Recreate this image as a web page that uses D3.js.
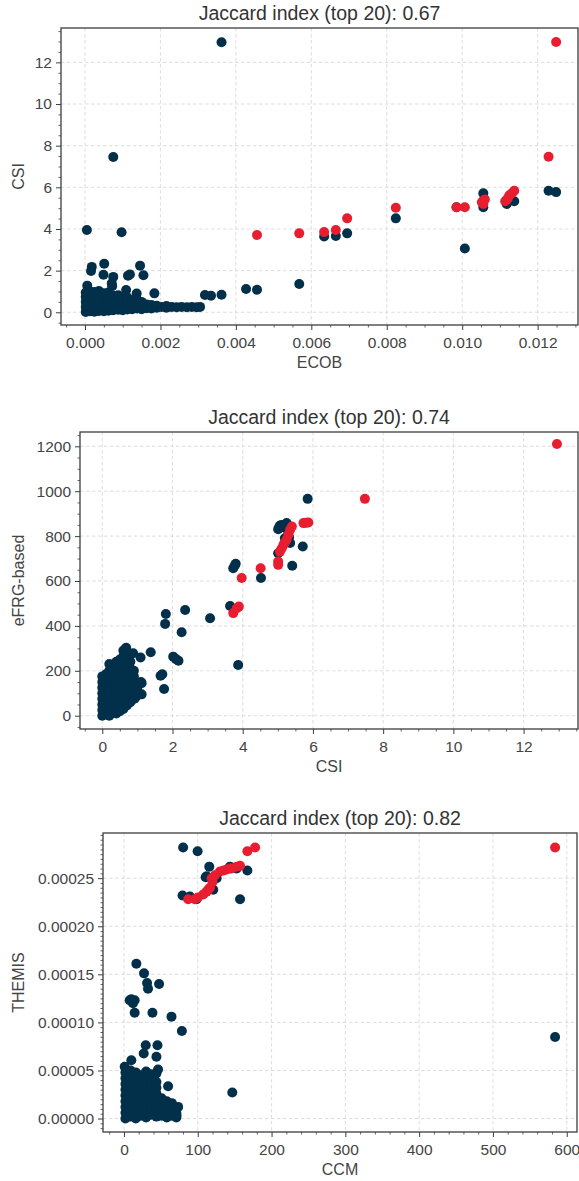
<!DOCTYPE html>
<html>
<head>
<meta charset="utf-8">
<script src="https://cdn.jsdelivr.net/npm/d3@7"></script>
<style>
  body { margin: 0; background: #fff; }
  text { font-family: "Liberation Sans", Arial, sans-serif; }
</style>
</head>
<body>
<svg id="chart" width="579" height="1181"></svg>
<script>
// ---- ECOB vs CSI ----
const ecobCsiAll = [
  [0.00362, 12.97], [0.00075, 7.46], [0.00005, 3.95], [0.00097, 3.84], [0.00051, 2.33],
  [0.00018, 2.18], [0.00016, 1.98], [0.00146, 2.24], [0.00155, 1.78], [0.00049, 1.80],
  [0.00075, 1.70], [0.00071, 1.39], [0.00072, 1.25], [0.00114, 1.76], [0.00119, 1.82],
  [0.00109, 1.07], [0.00006, 1.28], [0.00184, 0.91], [0.00137, 0.90], [0.00318, 0.83],
  [0.00334, 0.80], [0.00362, 0.84], [0.00427, 1.12], [0.00456, 1.08], [0.00568, 1.36],
  [0.00634, 3.64], [0.00665, 3.66], [0.00695, 3.79], [0.00824, 4.51], [0.00985, 5.04],
  [0.01007, 3.06], [0.01056, 5.71], [0.01056, 5.04], [0.01118, 5.20], [0.01138, 5.33],
  [0.01229, 5.84], [0.01249, 5.77],
  [0.00002, 0.02], [0.00002, 0.25], [0.00002, 0.50], [0.00002, 0.75], [0.00002, 0.95],
  [0.00013, 0.05], [0.00013, 0.30], [0.00013, 0.55], [0.00013, 0.80], [0.00013, 1.00],
  [0.00025, 0.03], [0.00025, 0.28], [0.00025, 0.52], [0.00025, 0.78], [0.00025, 0.98],
  [0.00037, 0.06], [0.00037, 0.30], [0.00037, 0.55], [0.00037, 0.80], [0.00037, 1.02],
  [0.00050, 0.05], [0.00050, 0.28], [0.00050, 0.50], [0.00050, 0.75], [0.00050, 0.92],
  [0.00062, 0.08], [0.00062, 0.30], [0.00062, 0.55], [0.00062, 0.78], [0.00062, 0.95],
  [0.00075, 0.10], [0.00075, 0.32], [0.00075, 0.55], [0.00075, 0.80],
  [0.00088, 0.12], [0.00088, 0.35], [0.00088, 0.58], [0.00088, 0.82],
  [0.00100, 0.10], [0.00100, 0.32], [0.00100, 0.55], [0.00100, 0.75],
  [0.00112, 0.14], [0.00112, 0.35], [0.00112, 0.55], [0.00112, 0.72],
  [0.00125, 0.15], [0.00125, 0.35], [0.00125, 0.58],
  [0.00138, 0.18], [0.00138, 0.40], [0.00138, 0.62],
  [0.00150, 0.15], [0.00150, 0.32], [0.00150, 0.50],
  [0.00163, 0.20], [0.00163, 0.38], [0.00176, 0.18], [0.00176, 0.35],
  [0.00190, 0.22], [0.00190, 0.32], [0.00203, 0.25], [0.00216, 0.22], [0.00216, 0.30],
  [0.00230, 0.26], [0.00243, 0.24], [0.00256, 0.26], [0.00270, 0.24], [0.00283, 0.25],
  [0.00296, 0.24], [0.00305, 0.26]
];
const ecobCsiTop = [
  [0.00456, 3.71], [0.00568, 3.79], [0.00634, 3.85], [0.00665, 3.95], [0.00695, 4.51],
  [0.00824, 5.02], [0.00985, 5.04], [0.01007, 5.04], [0.01056, 5.20], [0.01056, 5.35],
  [0.01052, 5.28], [0.01060, 5.42], [0.01114, 5.33], [0.01118, 5.39], [0.01121, 5.47],
  [0.01125, 5.62], [0.01132, 5.72], [0.01138, 5.84], [0.01229, 7.47], [0.01249, 12.98]
];

// ---- CSI vs eFRG-based ----
const csiEfrgAll = [
  [1.81, 453], [2.36, 471], [1.79, 409], [2.26, 372], [3.07, 434], [1.38, 283], [1.09, 259],
  [0.88, 278], [2.02, 263], [2.17, 245], [2.10, 252], [1.71, 185], [1.66, 178], [1.76, 119],
  [1.12, 145], [1.12, 95], [0.93, 78], [3.87, 226], [3.64, 489], [3.73, 657], [3.80, 677],
  [3.77, 668], [4.52, 613], [5.01, 724], [5.01, 831], [5.25, 858], [5.10, 850], [5.18, 838],
  [5.05, 845], [5.30, 815], [5.32, 795], [5.20, 790], [5.85, 966], [5.71, 754], [5.41, 668],
  [5.35, 769], [5.28, 785],
  [0.0, 0], [0.0, 25], [0.0, 50], [0.0, 75], [0.0, 100], [0.0, 125], [0.0, 150], [0.0, 175],
  [0.1, 10], [0.1, 35], [0.1, 60], [0.1, 85], [0.1, 110], [0.1, 135], [0.1, 160], [0.1, 185],
  [0.2, 0], [0.2, 25], [0.2, 50], [0.2, 75], [0.2, 100], [0.2, 125], [0.2, 150], [0.2, 175], [0.2, 200], [0.2, 230],
  [0.3, 15], [0.3, 40], [0.3, 65], [0.3, 90], [0.3, 115], [0.3, 140], [0.3, 165], [0.3, 190], [0.3, 215],
  [0.4, 10], [0.4, 35], [0.4, 60], [0.4, 85], [0.4, 110], [0.4, 135], [0.4, 160], [0.4, 185], [0.4, 210], [0.4, 240],
  [0.5, 20], [0.5, 45], [0.5, 70], [0.5, 95], [0.5, 120], [0.5, 145], [0.5, 170], [0.5, 195], [0.5, 220], [0.5, 250],
  [0.6, 30], [0.6, 55], [0.6, 80], [0.6, 105], [0.6, 130], [0.6, 155], [0.6, 180], [0.6, 205], [0.6, 230], [0.6, 265], [0.6, 290],
  [0.7, 45], [0.7, 70], [0.7, 95], [0.7, 120], [0.7, 145], [0.7, 170], [0.7, 195], [0.7, 220], [0.7, 250], [0.68, 303],
  [0.8, 60], [0.8, 85], [0.8, 110], [0.8, 135], [0.8, 160], [0.8, 185], [0.8, 210], [0.8, 240], [0.8, 275],
  [0.9, 75], [0.9, 100], [0.9, 125], [0.9, 150], [0.9, 175], [0.9, 200],
  [1.0, 90], [1.0, 115], [1.0, 140], [1.1, 150]
];
const csiEfrgTop = [
  [3.73, 457], [3.83, 479], [3.89, 486], [3.97, 613], [4.51, 657], [5.01, 672], [5.01, 687],
  [5.06, 731], [5.11, 745], [5.16, 761], [5.20, 772], [5.25, 784], [5.30, 806], [5.35, 828],
  [5.40, 843], [5.73, 858], [5.80, 859], [5.87, 861], [7.48, 966], [12.95, 1210]
];

// ---- CCM vs THEMIS ----
const ccmThemisAll = [
  [80.2, 0.000282], [99.8, 0.000278], [115.6, 0.000262], [110.7, 0.000251], [79.4, 0.000232],
  [89.3, 0.000231], [98.4, 0.000228], [157.3, 0.000228], [167.2, 0.000258], [143.7, 0.000262],
  [152.8, 0.000260], [125.6, 0.000250], [121.0, 0.000238], [112.0, 0.000252], [584.2, 0.0000848],
  [16.8, 0.000161], [27.2, 0.000151], [31.3, 0.000141], [32.6, 0.000135], [47.6, 0.000140],
  [7.7, 0.000123], [14.5, 0.000123], [12.2, 0.000120], [10.0, 0.000124], [14.5, 0.000110],
  [38.6, 0.000110], [64.4, 0.000106], [78.5, 0.000091], [29.5, 0.0000763], [45.4, 0.0000763],
  [26.8, 0.0000677], [44.0, 0.0000642], [146.8, 0.0000271], [59.8, 0.0000336], [1.0, 0.0000538],
  [10.0, 0.0000607], [46.2, 0.0000510], [73.4, 0.0000121], [71.2, 0.0000034],
  [2, 0.000000], [2, 0.000006], [2, 0.000012], [2, 0.000018], [2, 0.000024], [2, 0.000030], [2, 0.000036], [2, 0.000042], [2, 0.000048],
  [9, 0.000002], [9, 0.000008], [9, 0.000014], [9, 0.000020], [9, 0.000026], [9, 0.000032], [9, 0.000038], [9, 0.000044], [9, 0.000050],
  [16, 0.000000], [16, 0.000006], [16, 0.000012], [16, 0.000018], [16, 0.000024], [16, 0.000030], [16, 0.000036], [16, 0.000042], [16, 0.000048],
  [23, 0.000003], [23, 0.000009], [23, 0.000015], [23, 0.000021], [23, 0.000027], [23, 0.000033], [23, 0.000039], [23, 0.000045],
  [30, 0.000001], [30, 0.000007], [30, 0.000013], [30, 0.000019], [30, 0.000025], [30, 0.000031], [30, 0.000037], [30, 0.000043], [30, 0.000049],
  [37, 0.000004], [37, 0.000010], [37, 0.000016], [37, 0.000022], [37, 0.000028], [37, 0.000034], [37, 0.000040], [37, 0.000046],
  [44, 0.000002], [44, 0.000008], [44, 0.000014], [44, 0.000020], [44, 0.000026], [44, 0.000032], [44, 0.000038], [44, 0.000047],
  [51, 0.000003], [51, 0.000009], [51, 0.000015], [51, 0.000021],
  [58, 0.000001], [58, 0.000007], [58, 0.000014], [58, 0.000018],
  [65, 0.000003], [65, 0.000010], [65, 0.000016],
  [71, 0.000001], [71, 0.000006]
];
const ccmThemisTop = [
  [87.0, 0.000228], [96.1, 0.000228], [100.0, 0.000230], [107.4, 0.000233], [112.0, 0.000236],
  [114.2, 0.000238], [116.5, 0.000240], [118.8, 0.000250], [120.0, 0.000246], [123.3, 0.000253],
  [130.1, 0.000257], [135.0, 0.000258], [139.2, 0.000259], [143.7, 0.000260], [146.0, 0.000260],
  [152.8, 0.000262], [157.3, 0.000263], [167.2, 0.000278], [177.7, 0.000282], [584.2, 0.000282]
];

// tick values
const ecobTicks = [0, 0.002, 0.004, 0.006, 0.008, 0.010, 0.012];
const csiTicks = [0, 2, 4, 6, 8, 10, 12];
const efrgTicks = [0, 200, 400, 600, 800, 1000, 1200];
const ccmTicks = [0, 100, 200, 300, 400, 500, 600];
const themisTicks = [0, 0.00005, 0.0001, 0.00015, 0.0002, 0.00025];

const titles = ["Jaccard index (top 20): 0.67", "Jaccard index (top 20): 0.74", "Jaccard index (top 20): 0.82"];

const DARK = "#02304a";
const RED = "#e81d30";
const INK = "#3d3d3d";

const panels = [
  {
    title: titles[0], xLabel: "ECOB", yLabel: "CSI",
    all: ecobCsiAll, top: ecobCsiTop,
    box: { l: 61, r: 578, t: 28, b: 325 },
    xDomain: [-0.000636, 0.01307], yDomain: [-0.61, 13.65],
    xTicks: ecobTicks, yTicks: csiTicks, xMinor: 0.0005, yMinor: 0.5,
    xFmt: d3.format(".3f"), yFmt: d3.format("d")
  },
  {
    title: titles[1], xLabel: "CSI", yLabel: "eFRG-based",
    all: csiEfrgAll, top: csiEfrgTop,
    box: { l: 80, r: 578, t: 432, b: 729 },
    xDomain: [-0.635, 13.55], yDomain: [-59.3, 1263.8],
    xTicks: csiTicks, yTicks: efrgTicks, xMinor: 0.5, yMinor: 50,
    xFmt: d3.format("d"), yFmt: d3.format("d")
  },
  {
    title: titles[2], xLabel: "CCM", yLabel: "THEMIS",
    all: ccmThemisAll, top: ccmThemisTop,
    box: { l: 103, r: 577, t: 833, b: 1132 },
    xDomain: [-28.4, 613.9], yDomain: [-0.000014, 0.000297],
    xTicks: ccmTicks, yTicks: themisTicks, xMinor: 20, yMinor: 0.000005,
    xFmt: d3.format("d"), yFmt: d3.format(".5f")
  }
];

const svg = d3.select("#chart");

function minorValues(domain, step, majors) {
  const start = Math.ceil(domain[0] / step - 1e-9);
  const end = Math.floor(domain[1] / step + 1e-9);
  const out = [];
  for (let i = start; i <= end; i++) {
    const v = i * step;
    if (!majors.some(m => Math.abs(m - v) < step * 1e-3)) out.push(v);
  }
  return out;
}

panels.forEach(p => {
  const g = svg.append("g");
  const x = d3.scaleLinear().domain(p.xDomain).range([p.box.l, p.box.r]);
  const y = d3.scaleLinear().domain(p.yDomain).range([p.box.b, p.box.t]);

  // dashed grid at major ticks
  const grid = g.append("g").attr("stroke", "#d6d6d6").attr("stroke-width", 0.8)
    .attr("stroke-dasharray", "3.5,2.5");
  grid.selectAll(".gx").data(p.xTicks).join("line")
    .attr("x1", d => x(d)).attr("x2", d => x(d))
    .attr("y1", p.box.t).attr("y2", p.box.b);
  grid.selectAll(".gy").data(p.yTicks).join("line")
    .attr("x1", p.box.l).attr("x2", p.box.r)
    .attr("y1", d => y(d)).attr("y2", d => y(d));

  // minor ticks
  const xMinorAxis = d3.axisBottom(x).tickValues(minorValues(p.xDomain, p.xMinor, p.xTicks))
    .tickSize(2.5).tickFormat("");
  const yMinorAxis = d3.axisLeft(y).tickValues(minorValues(p.yDomain, p.yMinor, p.yTicks))
    .tickSize(2.5).tickFormat("");
  g.append("g").attr("transform", `translate(0,${p.box.b})`).call(xMinorAxis)
    .call(s => s.select(".domain").remove())
    .selectAll("line").attr("stroke", INK).attr("stroke-width", 0.8);
  g.append("g").attr("transform", `translate(${p.box.l},0)`).call(yMinorAxis)
    .call(s => s.select(".domain").remove())
    .selectAll("line").attr("stroke", INK).attr("stroke-width", 0.8);

  // major ticks and labels
  const xAxis = d3.axisBottom(x).tickValues(p.xTicks).tickSize(5).tickPadding(6.5).tickFormat(p.xFmt);
  const yAxis = d3.axisLeft(y).tickValues(p.yTicks).tickSize(5).tickPadding(4).tickFormat(p.yFmt);
  const gx = g.append("g").attr("transform", `translate(0,${p.box.b})`).call(xAxis);
  const gy = g.append("g").attr("transform", `translate(${p.box.l},0)`).call(yAxis);
  [gx, gy].forEach(a => {
    a.select(".domain").remove();
    a.selectAll("line").attr("stroke", INK).attr("stroke-width", 1);
    a.selectAll("text").attr("fill", "#444").attr("font-size", 15.5)
      .attr("font-family", '"Liberation Sans", Arial, sans-serif');
  });

  // points: all items first, the top-20 items on top
  g.append("g").selectAll("circle").data(p.all).join("circle")
    .attr("cx", d => x(d[0])).attr("cy", d => y(d[1])).attr("r", 5).attr("fill", DARK);
  g.append("g").selectAll("circle").data(p.top).join("circle")
    .attr("cx", d => x(d[0])).attr("cy", d => y(d[1])).attr("r", 5).attr("fill", RED);

  // frame
  g.append("rect")
    .attr("x", p.box.l).attr("y", p.box.t)
    .attr("width", p.box.r - p.box.l).attr("height", p.box.b - p.box.t)
    .attr("fill", "none").attr("stroke", INK).attr("stroke-width", 1.3);

  // title and axis labels
  g.append("text").attr("x", (p.box.l + p.box.r) / 2).attr("y", p.box.t - 8)
    .attr("text-anchor", "middle").attr("font-size", 19.5).attr("fill", "#333")
    .text(p.title);
  g.append("text").attr("x", (p.box.l + p.box.r) / 2).attr("y", p.box.b + 43)
    .attr("text-anchor", "middle").attr("font-size", 16).attr("fill", "#444")
    .text(p.xLabel);
  g.append("text")
    .attr("transform", `translate(24,${(p.box.t + p.box.b) / 2}) rotate(-90)`)
    .attr("text-anchor", "middle").attr("font-size", 16).attr("fill", "#444")
    .text(p.yLabel);
});
</script>
</body>
</html>
